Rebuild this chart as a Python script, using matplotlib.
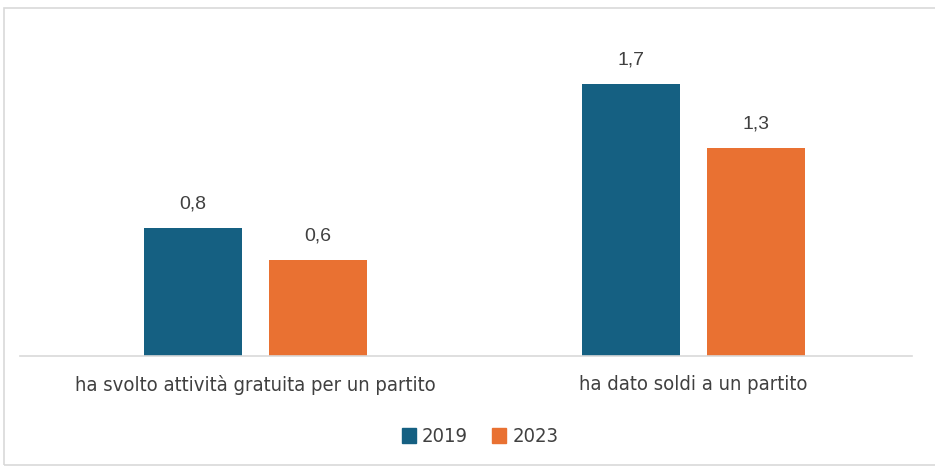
import matplotlib
matplotlib.use("Agg")
import matplotlib.pyplot as plt
from matplotlib import font_manager
from matplotlib.patches import Rectangle, Patch
import numpy as np

BLUE, ORANGE, TXT, GRID = "#156082", "#E97132", "#404040", "#D9D9D9"

categories = ["ha svolto attività gratuita per un partito", "ha dato soldi a un partito"]
years = ["2019", "2023"]
v2019 = [0.8, 1.7]
v2023 = [0.6, 1.3]

plt.rcParams["font.family"] = ["Liberation Sans", "DejaVu Sans"]
narrow = dict(family="DejaVu Sans", stretch="condensed", size=14.5)

W, H = 935, 472
fig = plt.figure(figsize=(W / 100, H / 100), dpi=100)
# axes placed in pixel coords: baseline at y=356, x from 20 to 912
ax = fig.add_axes([20 / W, 1 - 356 / H, 892 / W, 320 / H])
x = np.arange(len(categories))
bw, off = 0.2235, 0.1425
b1 = ax.bar(x - off, v2019, bw, color=BLUE)
b2 = ax.bar(x + off, v2023, bw, color=ORANGE)
for bars, vals in ((b1, v2019), (b2, v2023)):
    for r, v in zip(bars, vals):
        ax.annotate(f"{v:.1f}".replace(".", ","), (r.get_x() + r.get_width() / 2, v),
                    xytext=(0, 11), textcoords="offset points", ha="center", va="bottom",
                    fontsize=14, color=TXT)
ax.set_xlim(-0.536, 1.498)
ax.set_ylim(0, 2)
ax.set_yticks([])
ax.set_xticks(x)
ax.set_xticklabels(categories, color=TXT, fontproperties=font_manager.FontProperties(**narrow))
ax.tick_params(axis="x", length=0, pad=14)
for s in ("top", "right", "left"):
    ax.spines[s].set_visible(False)
ax.spines["bottom"].set_color(GRID)
ax.spines["bottom"].set_linewidth(1.2)

handles = [Patch(color=BLUE, label=years[0]), Patch(color=ORANGE, label=years[1])]
leg = fig.legend(handles=handles, loc="center", bbox_to_anchor=(480 / W, 1 - 437 / H), ncol=2,
                 frameon=False, handlelength=0.7, handleheight=0.7, handletextpad=0.3,
                 columnspacing=1.2, prop=font_manager.FontProperties(**narrow))
for t in leg.get_texts():
    t.set_color(TXT)

fig.patches.append(Rectangle((4 / W, 1 - 465 / H), 940 / W, 457 / H, transform=fig.transFigure,
                             fill=False, edgecolor="#D9D9D9", lw=1.2))
fig.savefig("out.png", dpi=100, facecolor="white")
